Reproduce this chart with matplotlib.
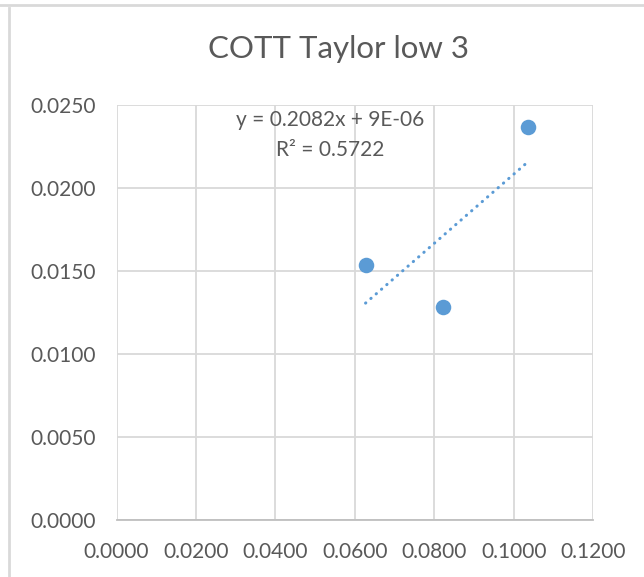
import numpy as np
import matplotlib.pyplot as plt
from matplotlib.lines import Line2D

# data
x_vals = [0.0627, 0.0821, 0.1037]
y_vals = [0.01536, 0.01285, 0.02366]

# trendline as printed on the chart
slope = 0.2082
intercept = 9e-06
eq_text = "y = 0.2082x + 9E-06"
r2_text = "R² = 0.5722"

x_ticks = [0.0, 0.02, 0.04, 0.06, 0.08, 0.10, 0.12]
y_ticks = [0.0, 0.005, 0.010, 0.015, 0.020, 0.025]

title = "COTT Taylor low 3"

BLUE = '#5b9bd5'
TEXT = '#595959'
GRID = '#d9d9d9'

plt.rcParams['font.family'] = ['Lato', 'DejaVu Sans']


def draw():
    fig = plt.figure(figsize=(6.44, 5.77), dpi=100)
    ax = fig.add_axes([0.181, 0.099, 0.740, 0.719])

    ax.set_xlim(0, 0.12)
    ax.set_ylim(0, 0.025)
    ax.set_xticks(x_ticks)
    ax.set_yticks(y_ticks)
    ax.set_xticklabels([f"{v:.4f}" for v in x_ticks])
    ax.set_yticklabels([f"{v:.4f}" for v in y_ticks])
    ax.tick_params(length=0, labelsize=15, colors=TEXT)
    ax.tick_params(axis='x', pad=16)
    ax.tick_params(axis='y', pad=15)
    ax.grid(True, color=GRID, linewidth=1.3)
    ax.set_axisbelow(True)
    for side in ['top', 'right', 'left']:
        ax.spines[side].set_visible(False)
    ax.spines['bottom'].set_color('#bfbfbf')
    ax.spines['bottom'].set_linewidth(1.3)

    # trendline
    xs = np.array([min(x_vals), max(x_vals)])
    ax.plot(xs, slope * xs + intercept, color=BLUE, linewidth=2.2,
            linestyle=(0, (0.1, 2.2)), dash_capstyle='round', zorder=2)

    ax.scatter(x_vals, y_vals, s=125, color=BLUE, zorder=3, linewidths=0)

    ax.text(0.0537, 0.0241, eq_text, fontsize=15, color=TEXT, ha='center', va='center')
    ax.text(0.0537, 0.0223, r2_text, fontsize=15, color=TEXT, ha='center', va='center')

    fig.text(0.525, 0.915, title, fontsize=22.5, color=TEXT, ha='center', va='center')

    # chart frame remnants
    fig.add_artist(Line2D([0, 1], [1 - 4.5 / 577] * 2, color=GRID, linewidth=2))
    fig.add_artist(Line2D([9 / 644] * 2, [0, 1 - 8 / 577], color=GRID, linewidth=2))

    fig.savefig('out.png', dpi=100)


if __name__ == '__main__':
    draw()
